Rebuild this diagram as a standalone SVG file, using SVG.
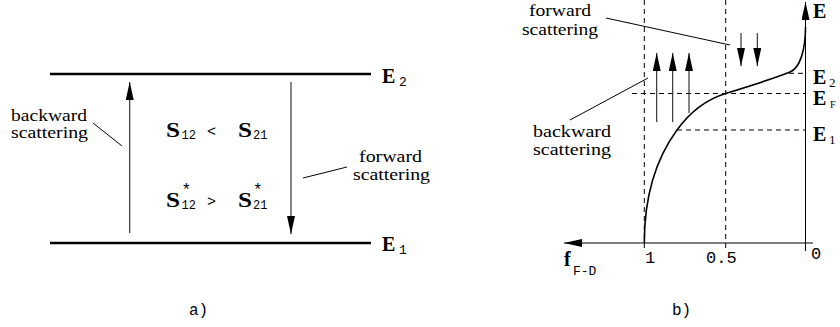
<svg xmlns="http://www.w3.org/2000/svg" width="840" height="327" viewBox="0 0 840 327">
<defs>
<marker id="ah" markerUnits="userSpaceOnUse" markerWidth="18" markerHeight="8" refX="18" refY="4" orient="auto">
<path d="M0,0 L18,4 L0,8 z" fill="#000"/>
</marker>
<style>
.lvl{stroke:#000;stroke-width:2.7;fill:none}
.arr{stroke:#222;stroke-width:1.1;fill:none;marker-end:url(#ah)}
.thin{stroke:#000;stroke-width:1;fill:none}
.dash{stroke:#000;stroke-width:1;fill:none;stroke-dasharray:5 4}
.curve{stroke:#000;stroke-width:1.6;fill:none}
.lbl{font-family:"Liberation Serif","Times New Roman",serif;font-size:16px;fill:#000}
.big{font-family:"Liberation Serif","Times New Roman",serif;font-weight:bold;font-size:20px;fill:#000}
.mono{font-family:"Liberation Mono","Courier New",monospace;fill:#000}
.sub{font-family:"Liberation Serif","Times New Roman",serif;fill:#000}
</style>
</defs>
<rect width="840" height="327" fill="#fff"/>

<g id="panel-a">
  <g id="level-E2">
    <line class="lvl" x1="50" y1="74" x2="371" y2="74"/>
    <text class="big" x="382" y="83">E</text>
    <text class="mono" x="399" y="86" font-size="13">2</text>
  </g>
  <g id="level-E1">
    <line class="lvl" x1="50" y1="243" x2="371" y2="243"/>
    <text class="big" x="382" y="251">E</text>
    <text class="mono" x="399" y="254" font-size="13">1</text>
  </g>
  <g id="rel-S">
    <text class="big" x="166" y="137" font-size="21" textLength="14" lengthAdjust="spacingAndGlyphs">S</text>
    <text class="mono" x="181.5" y="138.5" font-size="12">12</text>
    <text class="mono" x="207" y="136" font-size="15">&lt;</text>
    <text class="big" x="238" y="137" font-size="21" textLength="14" lengthAdjust="spacingAndGlyphs">S</text>
    <text class="mono" x="253" y="138.5" font-size="12">21</text>
  </g>
  <g id="rel-Sstar">
    <text class="big" x="166" y="207" font-size="21" textLength="14" lengthAdjust="spacingAndGlyphs">S</text>
    <text class="mono" x="181.5" y="195" font-size="16">*</text>
    <text class="mono" x="181.5" y="208.5" font-size="12">12</text>
    <text class="mono" x="207" y="206" font-size="15">&gt;</text>
    <text class="big" x="238" y="207" font-size="21" textLength="14" lengthAdjust="spacingAndGlyphs">S</text>
    <text class="mono" x="253" y="195" font-size="16">*</text>
    <text class="mono" x="253" y="208.5" font-size="12">21</text>
  </g>
  <g id="label-backward-a">
    <text class="lbl" x="11" y="120.5" textLength="76" lengthAdjust="spacingAndGlyphs">backward</text>
    <text class="lbl" x="11" y="137.5" textLength="77" lengthAdjust="spacingAndGlyphs">scattering</text>
  </g>
  <g id="label-forward-a">
    <text class="lbl" x="359" y="162" textLength="63" lengthAdjust="spacingAndGlyphs">forward</text>
    <text class="lbl" x="353" y="180" textLength="77" lengthAdjust="spacingAndGlyphs">scattering</text>
  </g>
  <text class="mono" x="189" y="315" font-size="16">a)</text>
</g>

<g id="panel-b">
  <g id="axes">
    <line class="thin" x1="805.5" y1="251" x2="805.5" y2="2" marker-end="url(#ah)"/>
    <line class="thin" x1="813" y1="243" x2="564" y2="243" marker-end="url(#ah)"/>
    <text class="big" x="813" y="18">E</text>
    <text class="big" x="564" y="266" font-size="22">f</text>
    <text class="mono" x="573" y="275" font-size="13">F-D</text>
    <text class="mono" x="645" y="263" font-size="17">1</text>
    <text class="mono" x="706" y="263" font-size="17">0.5</text>
    <text class="mono" x="811" y="259" font-size="17">0</text>
  </g>
  <g id="grid">
    <line class="dash" x1="644.3" y1="0" x2="644.3" y2="252"/>
    <line class="dash" x1="725.7" y1="0" x2="725.7" y2="252"/>
    <line class="dash" x1="789" y1="73.3" x2="805" y2="73.3"/>
    <line class="dash" x1="632" y1="93.5" x2="805" y2="93.5"/>
    <line class="dash" x1="677" y1="130" x2="805" y2="130"/>
  </g>
  <g id="fd-curve">
    <path class="curve" d="M644.3,243 C644.3,200 655,160 677,130 C690,112 705,100 725.5,93.5 C750,86 775,78 790,72 C800,68 805.5,50 805.5,27"/>
  </g>
  <g id="level-labels-b">
    <text class="big" x="813" y="84">E</text>
    <text class="sub" x="829" y="87" font-size="13">2</text>
    <text class="big" x="813" y="105">E</text>
    <text class="sub" x="830" y="108" font-size="10">F</text>
    <text class="big" x="813" y="141">E</text>
    <text class="sub" x="829" y="144" font-size="13">1</text>
  </g>
  <g id="label-forward-b">
    <text class="lbl" x="529" y="16" textLength="62" lengthAdjust="spacingAndGlyphs">forward</text>
    <text class="lbl" x="522" y="35" textLength="76" lengthAdjust="spacingAndGlyphs">scattering</text>
  </g>
  <g id="label-backward-b">
    <text class="lbl" x="533" y="137" textLength="78" lengthAdjust="spacingAndGlyphs">backward</text>
    <text class="lbl" x="533" y="155" textLength="78" lengthAdjust="spacingAndGlyphs">scattering</text>
  </g>
  <text class="mono" x="672" y="315" font-size="16">b)</text>
</g>

<g id="connectors">
  <line class="arr" x1="129.7" y1="233" x2="129.7" y2="82"/>
  <line class="arr" x1="291" y1="82" x2="291" y2="234"/>
  <line class="thin" x1="93" y1="123" x2="122" y2="146"/>
  <line class="thin" x1="303" y1="178" x2="347" y2="167"/>
  <line class="arr" x1="656.7" y1="122" x2="656.7" y2="53"/>
  <line class="arr" x1="672.7" y1="122" x2="672.7" y2="53"/>
  <line class="arr" x1="689" y1="113" x2="689" y2="53"/>
  <line class="arr" x1="741" y1="33" x2="741" y2="66"/>
  <line class="arr" x1="757.3" y1="33" x2="757.3" y2="66"/>
  <line class="thin" x1="606" y1="18" x2="730" y2="45"/>
  <line class="thin" x1="570" y1="120" x2="648" y2="78"/>
</g>
</svg>
